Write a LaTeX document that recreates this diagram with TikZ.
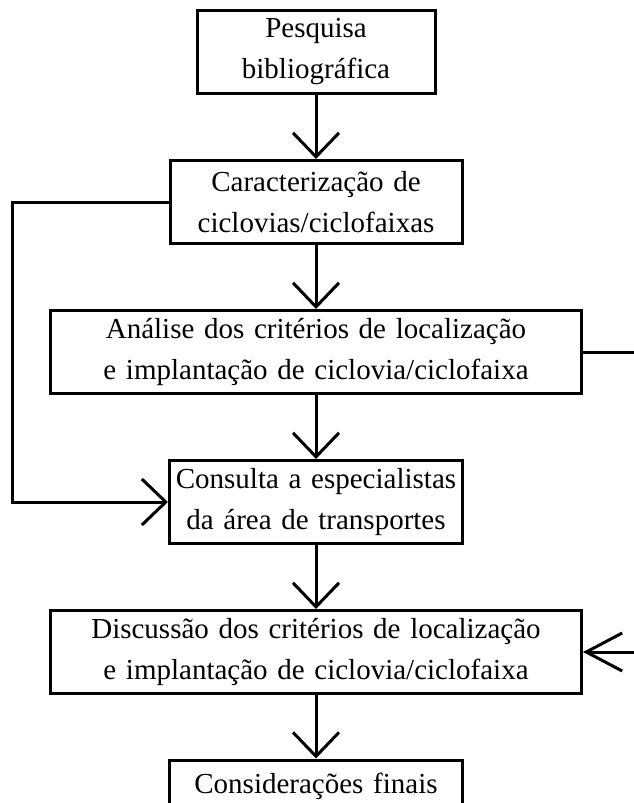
\documentclass[tikz,border=0pt]{standalone}
\usepackage{fontspec}
\setmainfont{Liberation Serif}
\usetikzlibrary{arrows.meta}

\begin{document}
\begin{tikzpicture}[->,>={Straight Barb[length=24pt,width=46pt]},x=1pt,y=1pt,node distance=150pt,line width=3pt,
                    caixa/.style={rectangle, draw, align=center, inner sep=4pt, minimum height=83pt, font=\fontsize{29}{41}\selectfont}]
                        \useasboundingbox (0,0) rectangle (633,-803);

                        \node [caixa, text width=230pt](1) at (316,-52) {Pesquisa\\bibliográfica};
                        \node [caixa, text width=284pt](2) [below of = 1]{Caracterização de\\ciclovias/ciclofaixas};
                        \node [caixa, text width=523pt](3) [below of = 2]{Análise dos critérios de localização\\e implantação de ciclovia/ciclofaixa};
                        \node [caixa, text width=285pt](4) [below of = 3]{Consulta a especialistas\\da área de transportes};
                        \node [caixa, text width=523pt](5) [below of = 4]{Discussão dos critérios de localização\\e implantação de ciclovia/ciclofaixa};
                        \node [caixa, text width=285pt, minimum height=52pt](6) [below of = 5, node distance=134pt]{Considerações finais};

                        \coordinate (borda) at (645,0);

                        \path
                            (1) edge (2)
                            (2) edge (3)
                            (3) edge (4)
                            (4) edge (5)
                            (5) edge (6)
                        ;

                        \draw (2.west) -- ++(-156,0) |- (4.west);
                        \draw[-] (3.east) -- (3.east -| borda);
                        \draw[-{Straight Barb[length=36pt,width=38pt]}] (5.east -| borda) -- (5.east);

                    \end{tikzpicture}
\end{document}
